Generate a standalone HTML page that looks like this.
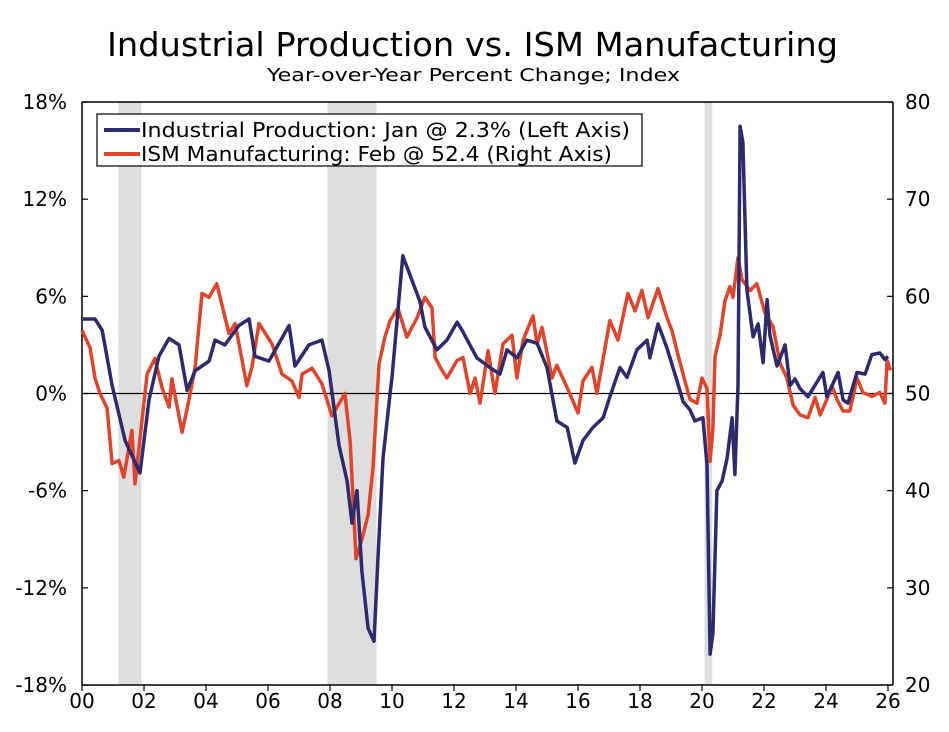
<!DOCTYPE html>
<html><head><meta charset="utf-8"><style>
body{margin:0;background:#fff;}
svg text{font-family:"DejaVu Sans","Liberation Sans",sans-serif;fill:#000;}
</style></head><body>
<svg id="chart" width="949" height="727" xmlns="http://www.w3.org/2000/svg">
<text x="107" y="56" font-size="33" textLength="731" lengthAdjust="spacingAndGlyphs">Industrial Production vs. ISM Manufacturing</text>
<text x="267" y="81" font-size="18" textLength="413" lengthAdjust="spacingAndGlyphs">Year-over-Year Percent Change; Index</text>
<g id="rec"></g>
<g id="axes"></g>
<g id="series"></g>
<g>
<rect x="97" y="114" width="545" height="52" fill="#fff" stroke="#000" stroke-width="1.2"/>
<line x1="104" y1="130" x2="140" y2="130" stroke="#2e2a6b" stroke-width="4"/>
<text x="141" y="137" font-size="20" textLength="489" lengthAdjust="spacingAndGlyphs">Industrial Production: Jan @ 2.3% (Left Axis)</text>
<line x1="104" y1="154" x2="140" y2="154" stroke="#e0442a" stroke-width="4"/>
<text x="141" y="161" font-size="20" textLength="471" lengthAdjust="spacingAndGlyphs">ISM Manufacturing: Feb @ 52.4 (Right Axis)</text>
</g>
</svg>
<script>
const ipDates=[0,0.42,0.65,0.97,1.39,1.87,2.16,2.48,2.81,3.13,3.39,3.65,4.10,4.29,4.61,5.06,5.39,5.58,6.03,6.68,6.87,7.32,7.74,7.97,8.29,8.55,8.71,8.87,9.03,9.23,9.42,9.55,9.71,9.94,10.0,10.35,10.68,10.90,11.06,11.45,11.77,12.10,12.26,12.74,13.16,13.48,13.71,14.03,14.35,14.68,15.0,15.32,15.65,15.90,16.16,16.48,16.81,17.03,17.35,17.58,17.90,18.23,18.32,18.58,18.87,19.19,19.39,19.61,19.77,20.03,20.16,20.26,20.35,20.48,20.65,20.81,20.97,21.06,21.16,21.23,21.32,21.45,21.65,21.81,21.97,22.10,22.19,22.42,22.68,22.84,23.0,23.16,23.42,23.58,23.90,24.03,24.39,24.55,24.71,25.0,25.26,25.48,25.74,25.90,26.0];
const ipValues=[4.6,4.6,3.9,0.5,-2.9,-4.9,-0.4,2.3,3.4,3.0,0.2,1.4,2.0,3.3,3.0,4.2,4.6,2.3,2.0,4.2,1.7,3.0,3.3,1.4,-3.2,-5.4,-8.0,-6,-11,-14.5,-15.3,-10,-4,0,1.0,8.5,6.8,5.7,4.1,2.7,3.3,4.4,3.9,2.2,1.6,1.2,2.7,2.2,3.3,3.1,1.6,-1.7,-2.1,-4.3,-2.9,-2.1,-1.5,-0.2,1.6,1.0,2.7,3.3,2.2,4.3,2.8,0.8,-0.5,-1.0,-1.7,-1.5,-4.4,-16.1,-14.8,-6,-5.4,-4.0,-1.5,-5.0,0.5,16.5,15.5,6.4,3.5,4.3,1.9,5.8,3.6,1.7,3.0,0.5,0.9,0.3,-0.2,0.3,1.3,-0.2,1.3,-0.4,-0.6,1.3,1.2,2.4,2.5,2.1,2.3];
const ismDates=[0,0.26,0.42,0.58,0.81,0.97,1.19,1.35,1.61,1.71,2.10,2.35,2.58,2.81,2.90,3.23,3.45,3.65,3.87,4.10,4.35,4.74,4.94,5.32,5.48,5.71,6.13,6.45,6.77,7.0,7.10,7.42,7.74,8.06,8.48,8.65,8.84,9.03,9.23,9.39,9.58,9.77,9.94,10.19,10.48,10.81,11.06,11.29,11.39,11.61,11.77,12.10,12.29,12.52,12.68,12.84,13.10,13.32,13.58,13.87,14.03,14.23,14.55,14.68,14.84,15.16,15.32,15.65,16.0,16.16,16.45,16.61,17.03,17.29,17.61,17.84,18.06,18.26,18.58,18.87,19.03,19.19,19.39,19.61,19.84,20.0,20.16,20.26,20.35,20.42,20.58,20.74,20.90,21.0,21.16,21.29,21.55,21.77,22.03,22.29,22.52,22.74,22.94,23.16,23.42,23.65,23.81,24.03,24.19,24.35,24.55,24.77,25.0,25.19,25.48,25.74,25.90,25.97,26.08];
const ismValues=[56.5,54.7,51.6,50,48.5,42.8,43.1,41.4,46.2,40.7,52,53.6,50.6,48.6,51.5,46,49.3,52.7,60.3,59.9,61.3,56.2,57.2,50.8,52.7,57.2,55.1,52,51.3,49.6,52,52.6,51,47.7,50,45,33,35,37.5,42.5,53,55.8,57.5,58.8,55.8,57.8,59.9,58.8,53.7,52.4,51.6,53.4,53.7,50,51.6,49,54.4,50,55.1,56,51.6,55.5,58,55.1,56.8,51.6,52.9,50.6,48,51.3,52.7,50,57.5,55.5,60.3,58.5,60.6,57.8,60.8,57.8,56.5,54.4,52,49.4,49,51.6,50.5,43,46.4,53.8,56,59.5,61,59.9,64,61.7,60.6,61.3,58.3,56.9,53.1,51.6,48.8,47.8,47.5,49.6,47.8,49.4,50.8,49.4,48.2,48.2,51.6,50.1,49.7,50.1,49,53.4,52.4];
const recessions=[[2001.17,2001.92],[2007.92,2009.5],[2020.08,2020.33]];
const leftTicks=[-18,-12,-6,0,6,12,18];
const rightTicks=[20,30,40,50,60,70,80];
const xTicks=[0,2,4,6,8,10,12,14,16,18,20,22,24,26];

const X0=82,X1=893,YT=102,YB=685;
const xs=y=>X0+y*31;
const yl=v=>YB-(v+18)/36*(YB-YT);
const yr=v=>YB-(v-20)/60*(YB-YT);
const NS="http://www.w3.org/2000/svg";
function mk(tag,attrs,parent){const e=document.createElementNS(NS,tag);for(const k in attrs)e.setAttribute(k,attrs[k]);parent.appendChild(e);return e;}
const rec=document.getElementById('rec'),ax=document.getElementById('axes'),se=document.getElementById('series');
recessions.forEach(r=>{const e=mk('rect',{x:xs(r[0]-2000),y:YT,width:xs(r[1]-2000)-xs(r[0]-2000),height:YB-YT,fill:'#dedede'},rec);

});
let e;
e=mk('line',{x1:X0,y1:YT,x2:X1,y2:YT,stroke:'#000','stroke-width':1.5},ax);

e=mk('line',{x1:X0,y1:YT,x2:X0,y2:YB,stroke:'#000','stroke-width':1.5},ax);

e=mk('line',{x1:X1,y1:YT,x2:X1,y2:YB,stroke:'#000','stroke-width':1.5},ax);

e=mk('line',{x1:X0,y1:YB,x2:X1,y2:YB,stroke:'#000','stroke-width':1.5},ax);

e=mk('line',{x1:X0,y1:yl(0),x2:X1,y2:yl(0),stroke:'#000','stroke-width':1.2},ax);

leftTicks.forEach(v=>{const y=yl(v);
e=mk('line',{x1:X0,y1:y,x2:X0+6,y2:y,stroke:'#000','stroke-width':1.2},ax);

e=mk('text',{x:67,y:y+7,'font-size':20,'text-anchor':'end'},ax);e.textContent=v+'%';
});
rightTicks.forEach(v=>{const y=yr(v);
e=mk('line',{x1:X1-6,y1:y,x2:X1,y2:y,stroke:'#000','stroke-width':1.2},ax);

e=mk('text',{x:905,y:y+7,'font-size':20},ax);e.textContent=v;
});
xTicks.forEach(v=>{const x=xs(v);
e=mk('line',{x1:x,y1:YB,x2:x,y2:YB+6,stroke:'#000','stroke-width':1.2},ax);

e=mk('text',{x:x,y:YB+23,'font-size':20,'text-anchor':'middle'},ax);e.textContent=String(v).padStart(2,'0');
});
const ismPts=ismDates.map((d,i)=>xs(d).toFixed(1)+','+yr(ismValues[i]).toFixed(1)).join(' ');
e=mk('polyline',{points:ismPts,fill:'none',stroke:'#e0442a','stroke-width':3.5,'stroke-linejoin':'round'},se);

const ipPts=ipDates.map((d,i)=>xs(d).toFixed(1)+','+yl(ipValues[i]).toFixed(1)).join(' ');
e=mk('polyline',{points:ipPts,fill:'none',stroke:'#2e2a6b','stroke-width':3.5,'stroke-linejoin':'round'},se);

</script>
</body></html>
